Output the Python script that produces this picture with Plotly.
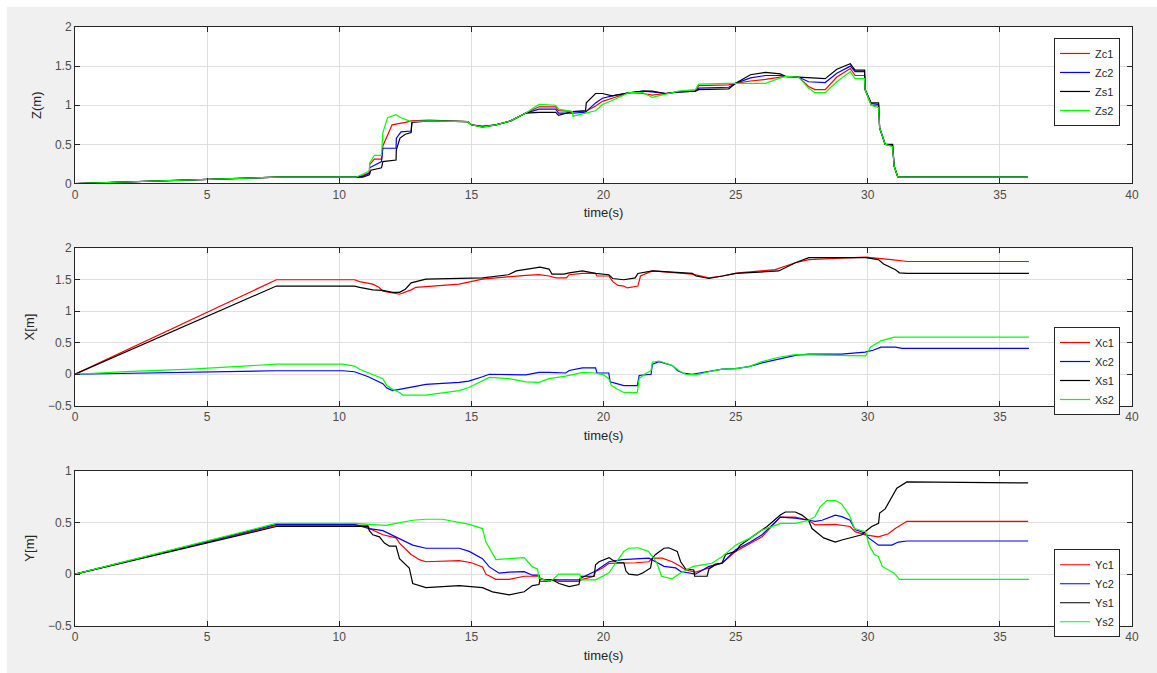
import plotly.graph_objects as go

# ---------------- data (time in s, value in m) ----------------
zc1_t = [0, 7.7, 10.64, 10.89, 11.14, 11.15, 11.33, 11.6, 11.65, 11.83, 12.0, 12.5, 12.72, 13.41, 14.86, 15.0, 15.42, 15.93, 16.49, 17.06, 17.56, 18.19, 18.3, 18.82, 19.32, 19.70, 19.96, 20.33, 20.96, 21.5, 21.84, 22.35, 22.85, 23.48, 23.6, 24.74, 25.0, 25.56, 26.13, 26.69, 26.88, 27.38, 27.76, 28.0, 28.39, 28.83, 29.34, 29.52, 29.88, 29.9, 30.13, 30.41, 30.45, 30.66, 30.94, 31.0, 31.14, 36.05]
zc1_v = [0, 0.08, 0.08, 0.10, 0.14, 0.24, 0.31, 0.31, 0.48, 0.62, 0.75, 0.78, 0.80, 0.81, 0.79, 0.75, 0.73, 0.75, 0.80, 0.90, 0.98, 0.98, 0.93, 0.92, 0.92, 0.99, 1.05, 1.09, 1.16, 1.15, 1.13, 1.15, 1.17, 1.18, 1.25, 1.26, 1.28, 1.31, 1.33, 1.36, 1.37, 1.36, 1.24, 1.20, 1.20, 1.36, 1.47, 1.38, 1.38, 1.20, 1.0, 0.99, 0.71, 0.50, 0.48, 0.22, 0.08, 0.08]

zc2_t = [0, 7.7, 10.64, 10.89, 11.14, 11.15, 11.6, 11.65, 12.15, 12.16, 12.34, 12.72, 12.75, 13.41, 14.86, 15.0, 15.42, 15.93, 16.49, 17.06, 17.56, 18.19, 18.3, 18.82, 19.32, 19.70, 19.96, 20.33, 20.96, 21.5, 21.84, 22.35, 22.85, 23.48, 23.6, 24.74, 25.0, 25.56, 26.13, 26.69, 26.88, 27.38, 27.76, 28.39, 28.83, 29.34, 29.52, 29.88, 29.9, 30.13, 30.41, 30.45, 30.66, 30.94, 31.0, 31.14, 36.05]
zc2_v = [0, 0.08, 0.08, 0.09, 0.13, 0.20, 0.28, 0.45, 0.45, 0.58, 0.66, 0.67, 0.79, 0.80, 0.79, 0.75, 0.73, 0.75, 0.80, 0.90, 0.95, 0.95, 0.90, 0.90, 0.91, 1.03, 1.09, 1.12, 1.16, 1.18, 1.17, 1.15, 1.17, 1.18, 1.22, 1.23, 1.28, 1.35, 1.38, 1.38, 1.37, 1.36, 1.30, 1.29, 1.41, 1.50, 1.43, 1.43, 1.20, 1.02, 1.01, 0.71, 0.50, 0.49, 0.22, 0.08, 0.08]

zs1_t = [0, 7.7, 10.64, 10.89, 11.14, 11.2, 11.6, 11.65, 12.15, 12.16, 12.3, 12.5, 12.72, 12.75, 13.41, 14.86, 15.0, 15.42, 15.93, 16.49, 17.06, 17.56, 18.19, 18.3, 18.82, 19.32, 19.35, 19.70, 19.96, 20.33, 20.96, 21.5, 21.84, 22.35, 22.85, 23.48, 23.6, 24.74, 25.0, 25.56, 26.13, 26.69, 26.88, 27.38, 27.76, 28.39, 28.83, 29.34, 29.52, 29.88, 29.9, 30.13, 30.41, 30.45, 30.66, 30.94, 31.0, 31.14, 36.05]
zs1_v = [0, 0.08, 0.08, 0.08, 0.11, 0.17, 0.20, 0.28, 0.30, 0.43, 0.58, 0.63, 0.65, 0.78, 0.80, 0.79, 0.75, 0.72, 0.75, 0.80, 0.90, 0.91, 0.91, 0.87, 0.92, 0.93, 1.03, 1.15, 1.15, 1.12, 1.16, 1.18, 1.18, 1.15, 1.17, 1.18, 1.20, 1.21, 1.28, 1.39, 1.42, 1.40, 1.37, 1.36, 1.35, 1.34, 1.46, 1.53, 1.45, 1.45, 1.20, 1.03, 1.03, 0.71, 0.50, 0.50, 0.22, 0.08, 0.08]

zs2_t = [0, 7.7, 10.64, 10.89, 11.14, 11.15, 11.33, 11.6, 11.65, 11.83, 12.15, 12.34, 12.72, 13.41, 14.86, 15.0, 15.42, 15.93, 16.49, 17.06, 17.56, 18.19, 18.3, 18.82, 18.85, 19.32, 19.70, 19.96, 20.33, 20.96, 21.5, 21.84, 22.35, 22.85, 23.48, 23.6, 24.74, 25.0, 25.56, 26.13, 26.88, 27.38, 27.76, 28.0, 28.39, 28.83, 29.34, 29.52, 29.88, 29.9, 30.13, 30.41, 30.45, 30.66, 30.94, 31.0, 31.14, 36.05]
zs2_v = [0, 0.08, 0.08, 0.12, 0.16, 0.26, 0.36, 0.36, 0.65, 0.84, 0.88, 0.84, 0.79, 0.80, 0.79, 0.75, 0.72, 0.75, 0.80, 0.90, 1.01, 1.00, 0.95, 0.92, 0.86, 0.90, 0.93, 1.01, 1.06, 1.16, 1.16, 1.10, 1.14, 1.18, 1.20, 1.27, 1.28, 1.28, 1.28, 1.28, 1.37, 1.36, 1.22, 1.16, 1.16, 1.30, 1.43, 1.34, 1.34, 1.20, 1.0, 0.97, 0.71, 0.50, 0.47, 0.22, 0.08, 0.08]

xc1_t = [0, 7.62, 10.58, 10.77, 11.27, 11.5, 11.65, 12.02, 12.28, 12.72, 12.9, 14.54, 15.42, 17.06, 17.56, 17.94, 18.2, 18.6, 18.7, 19.2, 19.7, 19.75, 20.2, 20.35, 20.55, 20.77, 20.9, 21.3, 21.4, 21.85, 23.36, 23.99, 24.5, 25.1, 26.5, 27.26, 27.77, 28.78, 29.92, 30.9, 31.5, 36.1]
xc1_v = [0, 1.50, 1.50, 1.47, 1.43, 1.38, 1.32, 1.29, 1.27, 1.34, 1.38, 1.43, 1.51, 1.57, 1.58, 1.56, 1.53, 1.53, 1.58, 1.60, 1.60, 1.56, 1.56, 1.47, 1.41, 1.40, 1.37, 1.40, 1.56, 1.64, 1.59, 1.53, 1.56, 1.61, 1.66, 1.77, 1.82, 1.84, 1.86, 1.82, 1.79, 1.79]

xc2_t = [0, 7.62, 10.13, 10.58, 11.1, 11.65, 11.8, 12.02, 12.28, 12.72, 13.28, 14.54, 14.9, 15.42, 15.68, 17.06, 17.56, 17.94, 18.57, 18.7, 19.2, 19.7, 19.75, 20.2, 20.25, 20.5, 20.77, 21.28, 21.35, 21.8, 21.85, 22.1, 22.6, 22.8, 23.0, 23.36, 23.99, 24.5, 25.0, 25.5, 26.0, 26.63, 27.26, 27.77, 29.0, 29.9, 30.2, 30.5, 31.05, 31.3, 36.1]
xc2_v = [0, 0.055, 0.055, 0.04, -0.04, -0.15, -0.22, -0.26, -0.24, -0.20, -0.16, -0.13, -0.11, -0.04, 0.0, -0.01, 0.03, 0.03, 0.02, 0.06, 0.10, 0.10, 0.02, 0.02, -0.12, -0.15, -0.18, -0.18, -0.02, 0.0, 0.16, 0.20, 0.14, 0.06, 0.02, 0.0, 0.04, 0.08, 0.09, 0.12, 0.18, 0.24, 0.30, 0.32, 0.32, 0.35, 0.38, 0.43, 0.43, 0.41, 0.41]

xs1_t = [0, 7.62, 10.58, 10.77, 11.27, 11.65, 12.02, 12.28, 12.5, 12.72, 13.28, 15.42, 16.4, 16.7, 17.3, 17.6, 17.94, 18.05, 18.5, 18.7, 19.2, 19.7, 20.2, 20.35, 20.77, 21.2, 21.3, 21.85, 22.6, 23.36, 23.5, 23.99, 24.5, 25.0, 26.63, 27.26, 27.77, 28.78, 29.03, 29.92, 30.4, 30.6, 31.05, 31.2, 31.5, 36.1]
xs1_v = [0, 1.40, 1.40, 1.38, 1.34, 1.33, 1.30, 1.30, 1.35, 1.45, 1.51, 1.53, 1.58, 1.64, 1.68, 1.70, 1.67, 1.59, 1.59, 1.61, 1.64, 1.60, 1.58, 1.52, 1.50, 1.53, 1.60, 1.64, 1.62, 1.60, 1.56, 1.52, 1.56, 1.60, 1.64, 1.77, 1.85, 1.85, 1.86, 1.85, 1.82, 1.75, 1.66, 1.61, 1.60, 1.60]

xs2_t = [0, 1.9, 4.4, 6.2, 7.62, 10.13, 10.58, 10.77, 11.27, 11.65, 11.8, 12.02, 12.28, 12.4, 13.28, 14.54, 14.9, 15.42, 15.68, 16.43, 17.06, 17.56, 17.94, 18.57, 19.2, 19.7, 20.0, 20.2, 20.3, 20.5, 20.77, 21.28, 21.35, 21.55, 21.8, 21.85, 22.1, 22.6, 22.85, 23.1, 23.5, 23.99, 24.5, 25.0, 25.5, 26.0, 26.63, 27.26, 28.78, 28.8, 29.92, 30.0, 30.1, 30.5, 31.0, 36.1]
xs2_v = [0, 0.04, 0.08, 0.12, 0.16, 0.16, 0.13, 0.08, 0.0, -0.07, -0.18, -0.24, -0.29, -0.33, -0.33, -0.26, -0.21, -0.10, -0.05, -0.07, -0.12, -0.13, -0.07, -0.03, 0.03, 0.02, -0.01, -0.07, -0.18, -0.23, -0.29, -0.29, -0.07, 0.0, 0.06, 0.19, 0.21, 0.14, 0.06, 0.0, -0.01, 0.04, 0.08, 0.09, 0.12, 0.20, 0.27, 0.31, 0.30, 0.29, 0.29, 0.35, 0.43, 0.53, 0.59, 0.59]

yc1_t = [0, 7.62, 10.58, 11.08, 11.14, 11.65, 12.15, 12.28, 12.72, 13.03, 13.28, 14.54, 15.0, 15.42, 15.55, 15.93, 16.43, 17.0, 17.56, 17.6, 17.94, 18.07, 18.32, 19.07, 19.14, 19.64, 19.7, 19.96, 20.21, 20.71, 21.22, 21.72, 21.85, 22.22, 22.6, 22.92, 23.11, 23.48, 23.99, 24.24, 24.49, 25.0, 25.56, 26.0, 26.69, 27.26, 27.76, 28.01, 28.77, 29.33, 29.52, 29.9, 30.41, 30.78, 31.04, 31.48, 36.07]
yc1_v = [0, 0.47, 0.47, 0.47, 0.44, 0.38, 0.35, 0.30, 0.19, 0.14, 0.12, 0.13, 0.11, 0.07, 0.0, -0.05, -0.05, -0.02, -0.02, -0.07, -0.07, -0.055, -0.07, -0.07, -0.055, -0.02, 0.025, 0.06, 0.105, 0.105, 0.11, 0.12, 0.155, 0.155, 0.12, 0.075, 0.04, 0.02, 0.06, 0.10, 0.105, 0.22, 0.30, 0.36, 0.55, 0.55, 0.52, 0.475, 0.48, 0.46, 0.41, 0.38, 0.36, 0.39, 0.44, 0.51, 0.51]

yc2_t = [0, 7.62, 10.58, 11.14, 11.65, 12.15, 12.4, 12.78, 13.28, 14.54, 14.92, 15.42, 15.68, 16.05, 16.43, 17.0, 17.31, 17.56, 17.6, 17.94, 18.32, 19.07, 19.14, 19.7, 20.21, 20.71, 21.72, 21.97, 22.29, 22.73, 22.92, 23.48, 23.99, 24.49, 25.0, 25.56, 26.0, 26.69, 27.26, 27.76, 28.01, 28.27, 28.77, 29.02, 29.33, 29.52, 29.9, 30.03, 30.41, 30.91, 31.16, 31.48, 36.07]
yc2_v = [0, 0.48, 0.48, 0.44, 0.42, 0.36, 0.33, 0.28, 0.25, 0.25, 0.22, 0.15, 0.07, 0.01, 0.02, 0.025, -0.01, -0.01, -0.05, -0.055, -0.055, -0.055, -0.04, 0.03, 0.12, 0.14, 0.155, 0.12, 0.075, 0.06, 0.026, 0.0, 0.075, 0.105, 0.235, 0.31, 0.38, 0.55, 0.54, 0.52, 0.51, 0.52, 0.57, 0.555, 0.52, 0.43, 0.395, 0.35, 0.28, 0.28, 0.31, 0.32, 0.32]

ys1_t = [0, 7.62, 10.58, 11.08, 11.14, 11.27, 11.52, 11.71, 11.9, 12.15, 12.28, 12.65, 12.78, 13.28, 14.54, 14.92, 15.42, 15.8, 16.43, 17.0, 17.31, 17.56, 17.6, 17.94, 18.07, 18.32, 18.7, 19.07, 19.14, 19.64, 19.7, 19.83, 20.21, 20.33, 20.52, 20.77, 20.85, 20.96, 21.28, 21.47, 21.78, 21.85, 21.97, 22.29, 22.47, 22.79, 22.92, 23.11, 23.42, 23.45, 23.92, 23.99, 24.24, 24.49, 24.62, 25.0, 25.18, 25.56, 26.0, 26.19, 26.69, 26.88, 27.26, 27.51, 27.76, 27.89, 28.33, 28.77, 29.02, 29.33, 29.78, 29.9, 30.15, 30.41, 30.45, 30.66, 30.91, 31.1, 31.48, 36.07]
ys1_v = [0, 0.46, 0.46, 0.46, 0.42, 0.38, 0.36, 0.30, 0.27, 0.27, 0.15, 0.06, -0.09, -0.13, -0.11, -0.12, -0.13, -0.17, -0.20, -0.17, -0.11, -0.10, -0.04, -0.07, -0.055, -0.09, -0.12, -0.10, -0.02, -0.02, 0.09, 0.12, 0.16, 0.14, 0.11, 0.11, 0.03, 0.0, -0.01, 0.01, 0.06, 0.155, 0.19, 0.25, 0.255, 0.22, 0.12, 0.05, 0.04, -0.02, -0.02, 0.05, 0.09, 0.11, 0.19, 0.22, 0.28, 0.35, 0.425, 0.46, 0.57, 0.60, 0.60, 0.57, 0.52, 0.44, 0.35, 0.31, 0.33, 0.35, 0.38, 0.41, 0.46, 0.49, 0.59, 0.63, 0.75, 0.83, 0.89, 0.88]

ys2_t = [0, 7.62, 10.58, 11.14, 11.77, 12.15, 12.78, 13.28, 13.91, 14.92, 15.42, 15.55, 15.93, 16.43, 17.0, 17.31, 17.5, 17.56, 17.94, 18.07, 18.3, 19.1, 19.15, 19.7, 20.2, 20.45, 20.77, 20.95, 21.3, 21.7, 22.0, 22.2, 22.6, 22.9, 23.4, 23.75, 24.1, 24.5, 25.0, 25.56, 26.0, 26.7, 27.26, 27.77, 28.0, 28.2, 28.45, 28.78, 29.0, 29.3, 29.5, 29.92, 30.05, 30.25, 30.4, 30.55, 31.0, 31.2, 36.1]
ys2_v = [0, 0.49, 0.49, 0.48, 0.47, 0.49, 0.52, 0.53, 0.53, 0.48, 0.44, 0.31, 0.14, 0.15, 0.16, 0.07, 0.05, -0.04, -0.07, -0.055, 0.0, 0.0, -0.055, -0.055, 0.01, 0.105, 0.22, 0.25, 0.255, 0.22, 0.12, -0.02, -0.045, 0.01, 0.075, 0.09, 0.105, 0.17, 0.28, 0.35, 0.425, 0.49, 0.49, 0.52, 0.555, 0.65, 0.71, 0.71, 0.68, 0.57, 0.44, 0.41, 0.28, 0.19, 0.17, 0.075, 0.01, -0.05, -0.05]

x_ticks = [0, 5, 10, 15, 20, 25, 30, 35, 40]
z_ticks = [0, 0.5, 1, 1.5, 2]
x_pos_ticks = [-0.5, 0, 0.5, 1, 1.5, 2]
y_pos_ticks = [-0.5, 0, 0.5, 1]

panels = [
    ("x", "y", "legend", "Z(m)", [("Zc1", zc1_t, zc1_v, "#ff0000"), ("Zc2", zc2_t, zc2_v, "#0000ff"),
                                  ("Zs1", zs1_t, zs1_v, "#000000"), ("Zs2", zs2_t, zs2_v, "#00ff00")]),
    ("x2", "y2", "legend2", "X[m]", [("Xc1", xc1_t, xc1_v, "#ff0000"), ("Xc2", xc2_t, xc2_v, "#0000ff"),
                                     ("Xs1", xs1_t, xs1_v, "#000000"), ("Xs2", xs2_t, xs2_v, "#00ff00")]),
    ("x3", "y3", "legend3", "Y[m]", [("Yc1", yc1_t, yc1_v, "#ff0000"), ("Yc2", yc2_t, yc2_v, "#0000ff"),
                                     ("Ys1", ys1_t, ys1_v, "#000000"), ("Ys2", ys2_t, ys2_v, "#00ff00")]),
]

fig = go.Figure()
for xa, ya, lg, _, series in panels:
    for name, t, v, col in series:
        fig.add_trace(go.Scatter(x=t, y=v, mode="lines", name=name, xaxis=xa, yaxis=ya,
                                 legend=lg, line=dict(color=col, width=1.2)))

W, H = 1157, 673
L, R, T, B = 75, 25, 27, 45
pw, ph = W - L - R, H - T - B


def yfrac(py):
    return (H - B - py) / ph


def xfrac(px):
    return (px - L) / pw


font_family = "Liberation Sans, Arial, sans-serif"
tick_font = dict(family=font_family, size=12, color="#4d4d4d")
title_font = dict(family=font_family, size=13, color="#262626")

axis_common = dict(showline=True, linecolor="#262626", linewidth=1, mirror="ticks",
                   ticks="inside", ticklen=5, tickcolor="#262626", showgrid=True,
                   gridcolor="#dfdfdf", gridwidth=1, zeroline=False, tickfont=tick_font)

domains = [(184, 27), (407, 249), (628, 472)]
yranges = [[0, 2], [-0.5, 2], [-0.5, 1]]
yticks = [z_ticks, x_pos_ticks, y_pos_ticks]
legend_tops = [38, 328, 551]

layout = dict(width=W, height=H, margin=dict(l=L, r=R, t=T, b=B),
              paper_bgcolor="#f0f0f0", plot_bgcolor="#ffffff", showlegend=True,
              font=dict(family=font_family))

for i, (xa, ya, lg, ytitle, _) in enumerate(panels):
    sfx = "" if i == 0 else str(i + 1)
    bot, top = domains[i]
    layout["xaxis" + sfx] = dict(axis_common, domain=[0, 1], range=[0, 40], tickvals=x_ticks,
                                 anchor=ya, title=dict(text="time(s)", font=title_font, standoff=7))
    layout["yaxis" + sfx] = dict(axis_common, domain=[yfrac(bot), yfrac(top)], range=yranges[i],
                                 tickvals=yticks[i], anchor=xa,
                                 title=dict(text=ytitle, font=title_font, standoff=10))
    layout[lg] = dict(x=xfrac(1120), xanchor="right", y=yfrac(legend_tops[i]), yanchor="top",
                      bgcolor="#ffffff", bordercolor="#262626", borderwidth=1,
                      font=dict(family=font_family, size=11, color="#262626"),
                      tracegroupgap=0, itemwidth=30)

fig.update_layout(**layout)

# thin white strips at the top and left edge of the figure
fig.add_shape(type="rect", xref="paper", yref="paper", layer="below",
              x0=xfrac(-5), x1=xfrac(W + 5), y0=yfrac(7), y1=yfrac(-5),
              fillcolor="#ffffff", line=dict(width=0))
fig.add_shape(type="rect", xref="paper", yref="paper", layer="below",
              x0=xfrac(-5), x1=xfrac(7), y0=yfrac(H + 5), y1=yfrac(-5),
              fillcolor="#ffffff", line=dict(width=0))

fig.write_html("out.html")
